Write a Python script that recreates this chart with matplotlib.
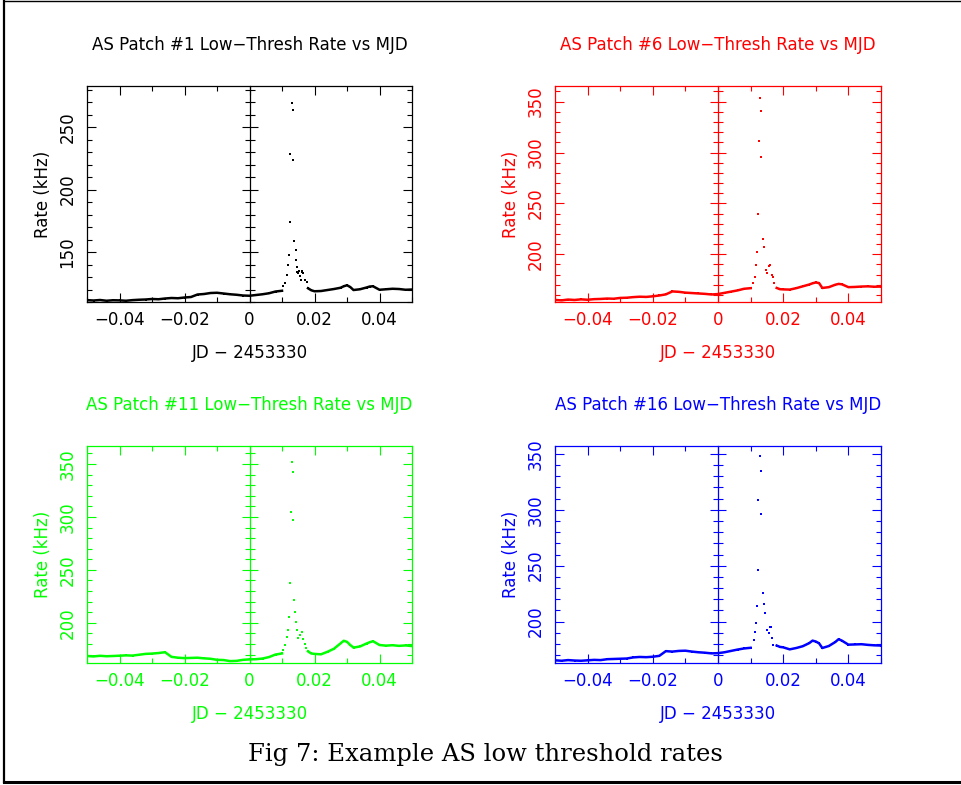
import matplotlib
matplotlib.use("Agg")
import matplotlib.pyplot as plt
from matplotlib.lines import Line2D
from matplotlib.ticker import MultipleLocator, FuncFormatter

# sample times (JD - 2453330) for the quiet parts of each trace
x_left = [-0.050, -0.048, -0.046, -0.044, -0.042, -0.040, -0.038, -0.036,
          -0.034, -0.032, -0.030, -0.028, -0.026, -0.024, -0.022, -0.020,
          -0.018, -0.016, -0.014, -0.012, -0.010, -0.008, -0.006, -0.004,
          -0.002, 0.000, 0.002, 0.004, 0.006, 0.008, 0.010]
x_right = [0.018, 0.019, 0.020, 0.022, 0.024, 0.026, 0.028, 0.029, 0.030,
           0.031, 0.032, 0.034, 0.036, 0.037, 0.038, 0.040, 0.042, 0.044,
           0.046, 0.048, 0.050]

# patch #1
p1_left = [111.5, 111.2, 111.6, 111.0, 111.4, 111.3, 111.0, 111.5, 111.8, 112.0,
           112.4, 112.2, 112.8, 113.2, 113.0, 113.6, 114.0, 116.0, 116.4, 117.2,
           117.4, 116.8, 116.2, 115.8, 115.2, 115.0, 115.6, 116.2, 117.0, 118.4,
           119.0]
p1_right = [121.0, 119.4, 118.6, 118.8, 119.6, 120.4, 121.4, 122.6, 123.4, 122.0,
            119.6, 120.2, 121.6, 122.4, 122.6, 119.8, 120.2, 120.6, 120.4, 119.8,
            120.0]
p1_burst_x = [0.0104, 0.0110, 0.0114, 0.0118, 0.0122, 0.0125, 0.0125, 0.0130,
              0.0134, 0.0135, 0.0138, 0.0142, 0.0142, 0.0145, 0.0147, 0.0150,
              0.0152, 0.0155, 0.0157, 0.0160, 0.0163, 0.0166, 0.0170, 0.0176]
p1_burst_y = [123.0, 125.0, 131.6, 140.0, 148.0, 174.3, 228.4, 269.4,
              223.6, 263.6, 158.8, 151.6, 143.6, 138.3, 134.0, 133.0,
              135.0, 130.8, 127.6, 134.0, 135.0, 133.0, 128.0, 126.0]

# patch #6
p6_left = [155.0, 154.6, 155.4, 155.0, 155.6, 155.2, 155.8, 156.0, 156.4, 156.2,
           157.0, 157.2, 157.8, 158.2, 158.0, 158.6, 159.4, 160.5, 163.4, 163.0,
           162.2, 161.8, 161.4, 161.0, 160.4, 160.8, 162.0, 163.2, 164.4, 166.0,
           166.6]
p6_right = [166.8, 165.6, 165.4, 165.2, 166.6, 168.4, 170.2, 171.4, 172.2, 171.6,
            166.8, 167.6, 170.0, 170.8, 170.4, 167.6, 167.8, 168.2, 168.4, 168.0,
            168.2]
p6_burst_x = [0.0107, 0.0113, 0.0118, 0.0121, 0.0124, 0.0125, 0.0128, 0.0131,
              0.0131, 0.0138, 0.0140, 0.0146, 0.0150, 0.0155, 0.0161, 0.0165,
              0.0169, 0.0172]
p6_burst_y = [171.5, 178.0, 189.5, 202.3, 239.3, 311.6, 353.2, 340.8,
              295.3, 215.3, 207.5, 184.6, 181.3, 188.5, 189.5, 180.0,
              178.0, 172.0]

# patch #11
p11_left = [168.6, 168.2, 168.8, 168.4, 168.6, 168.9, 169.2, 169.0, 169.8, 170.6,
            170.9, 171.4, 172.2, 167.8, 167.0, 166.6, 166.8, 167.0, 166.4, 166.0,
            165.0, 164.8, 163.8, 164.0, 165.0, 165.4, 165.6, 166.2, 167.6, 170.0,
            171.0]
p11_right = [173.0, 171.0, 170.6, 170.2, 172.6, 175.5, 180.5, 183.0, 182.0, 179.0,
             176.6, 177.6, 180.4, 181.6, 182.6, 179.0, 178.4, 178.8, 178.2, 178.6,
             178.0]
p11_burst_x = [0.0104, 0.0109, 0.0114, 0.0118, 0.0122, 0.0125, 0.0128, 0.0130,
               0.0134, 0.0135, 0.0138, 0.0140, 0.0142, 0.0145, 0.0150, 0.0155,
               0.0161, 0.0166, 0.0170, 0.0175]
p11_burst_y = [174.0, 179.0, 186.5, 193.0, 205.7, 237.8, 304.9, 351.6,
               297.0, 342.7, 221.5, 210.4, 201.0, 193.0, 185.2, 188.0,
               191.5, 185.0, 180.0, 176.0]

# patch #16
p16_left = [165.4, 165.0, 165.6, 165.2, 165.0, 165.4, 165.8, 165.6, 166.4, 166.6,
            166.8, 167.0, 168.0, 168.4, 168.2, 168.6, 169.4, 173.6, 173.2, 173.8,
            174.0, 173.2, 172.6, 172.2, 171.6, 171.8, 172.6, 173.8, 175.0, 176.0,
            176.6]
p16_right = [178.6, 177.4, 177.0, 175.2, 176.4, 178.0, 180.8, 183.0, 182.2, 180.6,
             176.4, 178.2, 181.8, 184.3, 183.0, 179.4, 179.6, 179.8, 179.2, 178.8,
             178.6]
p16_burst_x = [0.0110, 0.0113, 0.0118, 0.0121, 0.0123, 0.0124, 0.0128, 0.0131,
               0.0132, 0.0138, 0.0141, 0.0145, 0.0150, 0.0155, 0.0158, 0.0163,
               0.0166, 0.0170]
p16_burst_y = [183.6, 191.0, 199.1, 214.0, 246.2, 308.7, 348.0, 334.6,
               296.2, 225.9, 215.5, 207.5, 192.6, 190.2, 195.5, 195.5,
               185.2, 179.2]

patches = [
    # name, colour, left, right, burst x, burst y, ylim, axes box (px: l, t, r, b)
    ("1", "black", p1_left, p1_right, p1_burst_x, p1_burst_y, (110, 283), (87, 86, 412, 302)),
    ("6", "#ff0000", p6_left, p6_right, p6_burst_x, p6_burst_y, (153, 365.4), (555, 86, 881, 302)),
    ("11", "#00ff00", p11_left, p11_right, p11_burst_x, p11_burst_y, (162, 367), (87, 446, 412, 663)),
    ("16", "#0000ff", p16_left, p16_right, p16_burst_x, p16_burst_y, (163, 357), (555, 446, 881, 663)),
]

W, H = 962, 785
fig = plt.figure(figsize=(W / 100, H / 100), dpi=100)
plt.rcParams['font.family'] = ['DejaVu Sans']
FS = 12

def xfmt(v, pos):
    if abs(v) < 1e-9:
        return "0"
    return ("%.2f" % v).replace("-", "\u2212")

for name, col, yl, yr, bx, by, ylim, (l, t, r, b) in patches:
    ax = fig.add_axes([l / W, 1 - b / H, (r - l) / W, (b - t) / H])
    ax.plot(x_left, yl, color=col, lw=1.8, marker="s", ms=1.6, mew=0)
    ax.plot(x_right, yr, color=col, lw=1.8, marker="s", ms=1.6, mew=0)
    ax.plot(bx, by, ls="none", color=col, marker="s", ms=2.0, mew=0)

    ax.set_xlim(-0.05, 0.05)
    ax.set_ylim(*ylim)
    ax.xaxis.set_major_locator(MultipleLocator(0.02))
    ax.xaxis.set_minor_locator(MultipleLocator(0.01))
    ax.yaxis.set_major_locator(MultipleLocator(50))
    ax.yaxis.set_minor_locator(MultipleLocator(10))
    ax.xaxis.set_major_formatter(FuncFormatter(xfmt))

    for sp in ax.spines.values():
        sp.set_color(col)
        sp.set_linewidth(0.9)
    ax.tick_params(which="both", direction="in", top=True, right=True,
                   colors=col, width=0.8, labelsize=FS)
    ax.tick_params(which="major", length=6.5)
    ax.tick_params(which="minor", length=3.6)
    ax.tick_params(axis="x", pad=6.5)
    ax.tick_params(axis="y", pad=7.5, labelrotation=90)
    for lab in ax.get_yticklabels():
        lab.set_va("center")

    # axis drawn through JD offset zero
    zero = ax.secondary_yaxis(0.5)
    zero.yaxis.set_major_locator(MultipleLocator(50))
    zero.yaxis.set_minor_locator(MultipleLocator(10))
    for sp in zero.spines.values():
        sp.set_color(col)
        sp.set_linewidth(0.9)
    zero.tick_params(which="both", direction="inout", colors=col, width=0.8,
                     labelleft=False, labelright=False)
    zero.tick_params(which="major", length=12)
    zero.tick_params(which="minor", length=7)

    ax.set_xlabel("JD \u2212 2453330", color=col, fontsize=FS)
    ax.xaxis.label.set_va("center")
    ax.xaxis.set_label_coords(0.5, -51 / (b - t))
    ax.set_ylabel("Rate (kHz)", color=col, fontsize=FS)
    ax.yaxis.label.set(rotation_mode="default", va="center", ha="center")
    ax.yaxis.set_label_coords(-44 / (r - l), 0.5)

    ax.text(0.5, 1 + 41 / (b - t), "AS Patch #%s Low\u2212Thresh Rate vs MJD" % name,
            transform=ax.transAxes, ha="center", va="center", color=col, fontsize=FS)

fig.text(485.5 / W, 1 - 755 / H, "Fig 7: Example AS low threshold rates",
         ha="center", va="center", fontsize=17.5, family="DejaVu Serif")

# page frame: left, top and bottom rules
fig.add_artist(Line2D([4 / W, 4 / W], [1 - 1 / H, 1 - 782 / H], color="black", lw=1.6))
fig.add_artist(Line2D([4 / W, 1.0], [1 - 1 / H, 1 - 1 / H], color="black", lw=1.0))
fig.add_artist(Line2D([4 / W, 1.0], [1 - 782 / H, 1 - 782 / H], color="black", lw=2.2))

fig.savefig("out.png", dpi=100)
